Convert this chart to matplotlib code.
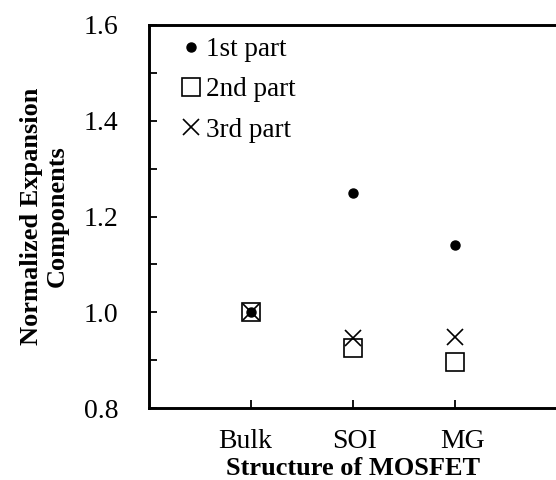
import matplotlib
matplotlib.use("Agg")
import matplotlib.pyplot as plt
from matplotlib.transforms import ScaledTranslation

categories = ["Bulk", "SOI", "MG"]
part1 = [1.0, 1.249, 1.141]
part2 = [1.0, 0.926, 0.897]
part3 = [1.0, 0.947, 0.948]
series_names = ["1st part", "2nd part", "3rd part"]

plt.rcParams['font.family'] = ['Liberation Serif', 'DejaVu Serif']

fig = plt.figure(figsize=(5.56, 4.8), dpi=100)
ax = fig.add_axes([149/556, (480-408)/480, 408/556, 383/480])

x = list(range(1, len(categories) + 1))
ax.plot(x, part1, linestyle='none', marker='o', markersize=6.5, color='black', label=series_names[0], zorder=3)
ax.plot(x, part2, linestyle='none', marker='s', markersize=13.5, markerfacecolor='none',
        markeredgecolor='black', markeredgewidth=1.2, label=series_names[1], zorder=2)
ax.plot(x, part3, linestyle='none', marker='x', markersize=11, color='black', markeredgewidth=1.2,
        label=series_names[2], zorder=2)

ax.set_xlim(0, 4)
ax.set_ylim(0.8, 1.6)
ax.set_xticks(x)
ax.set_xticklabels(categories)
ax.set_yticks([0.8, 1.0, 1.2, 1.4, 1.6])
ax.set_yticklabels(["0.8", "1.0", "1.2", "1.4", "1.6"])
ax.set_yticks([0.9, 1.1, 1.3, 1.5], minor=True)

ax.tick_params(axis='both', which='both', direction='in', width=1.3, labelsize=20)
ax.tick_params(axis='y', which='major', length=5.5, pad=22)
ax.tick_params(axis='y', which='minor', length=5.5)
ax.tick_params(axis='x', which='major', length=5.5, pad=15)

# small horizontal offsets of the category labels as in the reference
offsets_px = [-6, 1, 8]
for lab, dx in zip(ax.get_xticklabels(), offsets_px):
    lab.set_transform(lab.get_transform() + ScaledTranslation(dx / 100, 0, fig.dpi_scale_trans))

for s in ['left', 'bottom', 'top']:
    ax.spines[s].set_linewidth(2.1)
ax.spines['right'].set_visible(False)

ax.set_xlabel("Structure of MOSFET", fontsize=19, fontweight='bold', labelpad=2)
ax.set_ylabel("Normalized Expansion\nComponents", fontsize=19, fontweight='bold', labelpad=11,
              linespacing=1.15)

leg = ax.legend(loc='upper left', bbox_to_anchor=(0.051, 0.997), frameon=False, fontsize=19.5,
                handlelength=0.8, handletextpad=0.15, labelspacing=0.57, borderaxespad=0.0,
                markerscale=1.0)

fig.savefig("out.png", dpi=100)
